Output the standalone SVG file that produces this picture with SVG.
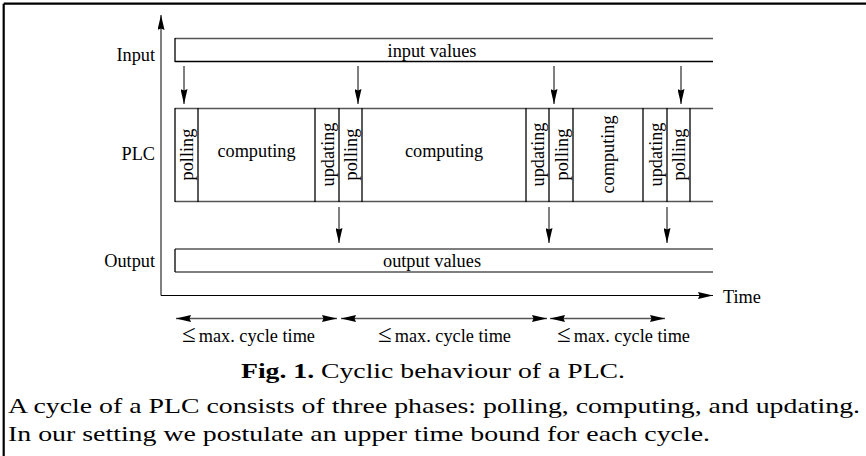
<svg xmlns="http://www.w3.org/2000/svg" width="866" height="456" viewBox="0 0 866 456">
<style>
  .t { font-family: "Liberation Serif", "Times New Roman", serif; font-size: 18.3px; fill: #000; }
  .le { font-size: 25px; }
  .cap { font-family: "Liberation Serif", "Times New Roman", serif; font-size: 22px; fill: #000; }
  .body { font-family: "Liberation Serif", "Times New Roman", serif; font-size: 21px; fill: #000; }
  .hl { stroke: #555; stroke-width: 1.3; fill: none; }
  .vl { stroke: #000; stroke-width: 1.3; fill: none; }
  .ax { stroke: #000; stroke-width: 1; fill: none; }
  .arr { stroke: #000; stroke-width: 1; fill: none; marker-end: url(#ah); }
  .cyc { stroke: #555; stroke-width: 1.3; fill: none; marker-start: url(#ah); marker-end: url(#ah); }
</style>
<defs>
  <marker id="ah" viewBox="0 0 15 7" refX="15" refY="3.5" markerWidth="15" markerHeight="7" markerUnits="userSpaceOnUse" orient="auto-start-reverse">
    <path d="M0,0 L15,3.5 L0,7 L1.5,3.5 Z" fill="#000"/>
  </marker>
</defs>
<rect width="866" height="456" fill="#fff"/>
<g id="frame">
  <line x1="3.7" y1="3.7" x2="866" y2="3.7" stroke="#000" stroke-width="2.2"/>
  <line x1="3.7" y1="3.7" x2="3.7" y2="456" stroke="#000" stroke-width="2.2"/>
</g>
<g id="axes">
  <line class="ax" x1="161" y1="295.5" x2="161" y2="15" marker-end="url(#ah)"/>
  <line class="ax" x1="161" y1="295.5" x2="713" y2="295.5" marker-end="url(#ah)"/>
  <text class="t" x="723" y="303">Time</text>
</g>
<g id="labels">
  <text class="t" x="155" y="61" text-anchor="end">Input</text>
  <text class="t" x="155" y="160" text-anchor="end">PLC</text>
  <text class="t" x="155" y="267" text-anchor="end">Output</text>
</g>
<g id="input">
  <line class="hl" x1="175" y1="38.5" x2="713" y2="38.5"/>
  <line class="vl" x1="175" y1="61.5" x2="713" y2="61.5"/>
  <line class="vl" x1="175" y1="38" x2="175" y2="62"/>
  <text class="t" x="432" y="57" text-anchor="middle">input values</text>
</g>
<g id="plc">
  <line class="hl" x1="175" y1="108.5" x2="713" y2="108.5"/>
  <line class="hl" x1="175" y1="201.5" x2="713" y2="201.5"/>
  <g class="vl">
    <line x1="175" y1="108" x2="175" y2="202"/>
    <line x1="198" y1="108" x2="198" y2="202"/>
    <line x1="315" y1="108" x2="315" y2="202"/>
    <line x1="339" y1="108" x2="339" y2="202"/>
    <line x1="362" y1="108" x2="362" y2="202"/>
    <line x1="526" y1="108" x2="526" y2="202"/>
    <line x1="549" y1="108" x2="549" y2="202"/>
    <line x1="573" y1="108" x2="573" y2="202"/>
    <line x1="643" y1="108" x2="643" y2="202"/>
    <line x1="667" y1="108" x2="667" y2="202"/>
    <line x1="690" y1="108" x2="690" y2="202"/>
  </g>
  <text class="t" text-anchor="middle" transform="translate(193,154.5) rotate(-90)">polling</text>
  <text class="t" x="256.5" y="157" text-anchor="middle">computing</text>
  <text class="t" text-anchor="middle" transform="translate(334,154.5) rotate(-90)">updating</text>
  <text class="t" text-anchor="middle" transform="translate(357,154.5) rotate(-90)">polling</text>
  <text class="t" x="444" y="157" text-anchor="middle">computing</text>
  <text class="t" text-anchor="middle" transform="translate(544,154.5) rotate(-90)">updating</text>
  <text class="t" text-anchor="middle" transform="translate(568,154.5) rotate(-90)">polling</text>
  <text class="t" text-anchor="middle" transform="translate(614,154.5) rotate(-90)">computing</text>
  <text class="t" text-anchor="middle" transform="translate(662,154.5) rotate(-90)">updating</text>
  <text class="t" text-anchor="middle" transform="translate(685,154.5) rotate(-90)">polling</text>
</g>
<g id="output">
  <line class="hl" x1="175" y1="249" x2="713" y2="249"/>
  <line class="hl" x1="175" y1="272" x2="713" y2="272"/>
  <line class="vl" x1="175" y1="249" x2="175" y2="272"/>
  <text class="t" x="432" y="267" text-anchor="middle">output values</text>
</g>
<g id="connectors">
  <line class="arr" x1="184" y1="66" x2="184" y2="104"/>
  <line class="arr" x1="358" y1="66" x2="358" y2="104"/>
  <line class="arr" x1="554" y1="66" x2="554" y2="104"/>
  <line class="arr" x1="681" y1="66" x2="681" y2="104"/>
  <line class="arr" x1="339" y1="207" x2="339" y2="243"/>
  <line class="arr" x1="549" y1="207" x2="549" y2="243"/>
  <line class="arr" x1="667" y1="207" x2="667" y2="243"/>
  <line class="cyc" x1="176" y1="318.5" x2="337" y2="318.5"/>
  <line class="cyc" x1="341" y1="318.5" x2="547" y2="318.5"/>
  <line class="cyc" x1="550" y1="318.5" x2="665" y2="318.5"/>
</g>
<g id="cycle-labels">
  <text class="t" x="182" y="342"><tspan class="le">≤</tspan><tspan dx="3">max. cycle time</tspan></text>
  <text class="t" x="378" y="342"><tspan class="le">≤</tspan><tspan dx="3">max. cycle time</tspan></text>
  <text class="t" x="557" y="342"><tspan class="le">≤</tspan><tspan dx="3">max. cycle time</tspan></text>
</g>
<g id="caption">
  <text class="cap" x="241" y="378" textLength="384" lengthAdjust="spacingAndGlyphs"><tspan font-weight="bold">Fig. 1.</tspan> Cyclic behaviour of a PLC.</text>
  <text class="body" x="8" y="413" textLength="852" lengthAdjust="spacingAndGlyphs">A cycle of a PLC consists of three phases: polling, computing, and updating.</text>
  <text class="body" x="8" y="441" textLength="702" lengthAdjust="spacingAndGlyphs">In our setting we postulate an upper time bound for each cycle.</text>
</g>
</svg>
